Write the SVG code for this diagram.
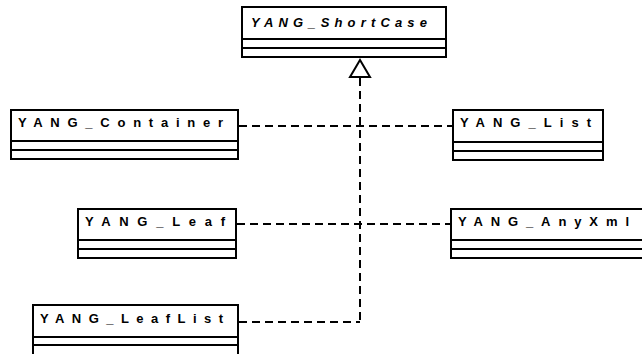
<svg xmlns="http://www.w3.org/2000/svg" width="642" height="354" viewBox="0 0 642 354">
<style>
.box{fill:#fff;stroke:#000;stroke-width:2}
.t{font-family:"Liberation Sans",Arial,sans-serif;font-weight:bold;font-size:13px;fill:#000}
.it{font-style:italic}
.c{fill:none;stroke:#000;stroke-width:2;stroke-dasharray:8 5}
</style>
<rect width="642" height="354" fill="#fff"/>
<g id="connectors">
<line class="c" x1="360" y1="78" x2="360" y2="322"/>
<line class="c" x1="239" y1="126" x2="452" y2="126"/>
<line class="c" x1="237" y1="224" x2="451" y2="224"/>
<line class="c" x1="239" y1="322" x2="360" y2="322"/>
<polygon points="360,60 350,77 370,77" fill="#fff" stroke="#000" stroke-width="2"/>
</g>
<g id="YANG_ShortCase">
<rect class="box" x="242" y="7" width="204" height="32"/>
<rect class="box" x="242" y="39" width="204" height="9"/>
<rect class="box" x="242" y="48" width="204" height="9"/>
<text class="t it" x="251" y="27" textLength="176" lengthAdjust="spacing">YANG_ShortCase</text>
</g>
<g id="YANG_Container">
<rect class="box" x="11" y="110" width="227" height="31"/>
<rect class="box" x="11" y="141" width="227" height="9"/>
<rect class="box" x="11" y="150" width="227" height="9"/>
<text class="t" x="18" y="127" textLength="205" lengthAdjust="spacing">YANG_Container</text>
</g>
<g id="YANG_List">
<rect class="box" x="453" y="110" width="150" height="32"/>
<rect class="box" x="453" y="142" width="150" height="9"/>
<rect class="box" x="453" y="151" width="150" height="9"/>
<text class="t" x="460" y="127" textLength="131" lengthAdjust="spacing">YANG_List</text>
</g>
<g id="YANG_Leaf">
<rect class="box" x="78" y="209" width="158" height="31"/>
<rect class="box" x="78" y="240" width="158" height="9"/>
<rect class="box" x="78" y="249" width="158" height="9"/>
<text class="t" x="85" y="226" textLength="140" lengthAdjust="spacing">YANG_Leaf</text>
</g>
<g id="YANG_AnyXml">
<rect class="box" x="451" y="209" width="200" height="31"/>
<rect class="box" x="451" y="240" width="200" height="9"/>
<rect class="box" x="451" y="249" width="200" height="9"/>
<text class="t" x="458" y="226" textLength="171" lengthAdjust="spacing">YANG_AnyXml</text>
</g>
<g id="YANG_LeafList">
<rect class="box" x="33" y="305" width="205" height="32"/>
<rect class="box" x="33" y="337" width="205" height="8"/>
<rect class="box" x="33" y="345" width="205" height="20"/>
<text class="t" x="40" y="323" textLength="183" lengthAdjust="spacing">YANG_LeafList</text>
</g>
</svg>
